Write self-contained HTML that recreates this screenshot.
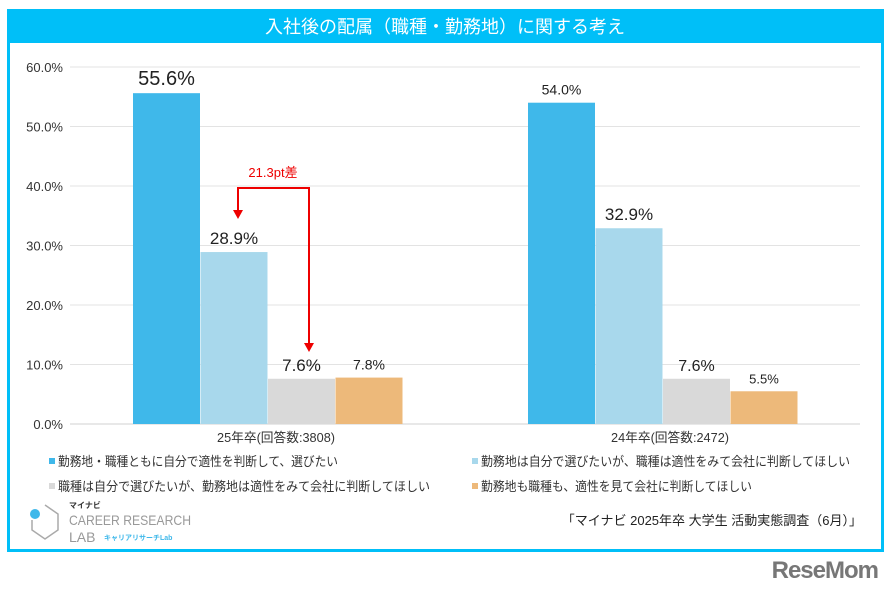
<!DOCTYPE html>
<html><head><meta charset="utf-8"><style>
body{margin:0;width:890px;height:591px;background:#fff;overflow:hidden;font-family:"Liberation Sans","Noto Sans CJK JP",sans-serif}
svg text{font-family:"Liberation Sans","Noto Sans CJK JP",sans-serif}
</style></head><body>
<svg width="890" height="591">
<rect x="8.5" y="10.5" width="874" height="540" fill="#fff" stroke="#00bff8" stroke-width="3"/>
<rect x="8" y="10" width="875" height="33" fill="#00bff8"/>
<text x="445" y="33" font-size="18" fill="#fff" text-anchor="middle">入社後の配属（職種・勤務地）に関する考え</text>
<g id="grid"></g><g id="bars"></g>
<g>
<text x="273" y="177" font-size="13" fill="#e00" text-anchor="middle">21.3pt差</text>
<polyline points="238,212 238,188 309,188 309,344" fill="none" stroke="#e00" stroke-width="2"/>
<polygon points="233,210 243,210 238,219" fill="#e00"/><polygon points="304,343 314,343 309,352" fill="#e00"/>
</g>
<text x="276" y="442" font-size="13" fill="#333" text-anchor="middle" textLength="118" lengthAdjust="spacingAndGlyphs">25年卒(回答数:3808)</text>
<text x="670" y="442" font-size="13" fill="#333" text-anchor="middle" textLength="118" lengthAdjust="spacingAndGlyphs">24年卒(回答数:2472)</text>
<g font-size="13" fill="#333">
<g><rect x="49" y="458" width="6" height="6" fill="#3fb8ea"/><text x="58" y="466" textLength="280" lengthAdjust="spacingAndGlyphs">勤務地・職種ともに自分で適性を判断して、選びたい</text></g>
<g><rect x="472" y="458" width="6" height="6" fill="#a8d8ec"/><text x="481" y="466" textLength="369" lengthAdjust="spacingAndGlyphs">勤務地は自分で選びたいが、職種は適性をみて会社に判断してほしい</text></g>
<g><rect x="49" y="483" width="6" height="6" fill="#d9d9d9"/><text x="58" y="491" textLength="372" lengthAdjust="spacingAndGlyphs">職種は自分で選びたいが、勤務地は適性をみて会社に判断してほしい</text></g>
<g><rect x="472" y="483" width="6" height="6" fill="#edb97a"/><text x="481" y="491" textLength="271" lengthAdjust="spacingAndGlyphs">勤務地も職種も、適性を見て会社に判断してほしい</text></g>
</g>
<g>
<circle cx="35" cy="514" r="5" fill="#3fb8ea"/>
<polyline points="45,505 58,514 58,530 45,539 32,530 32,520" fill="none" stroke="#aaa" stroke-width="1.5"/>
<text x="69" y="508" font-size="8" fill="#333" font-weight="bold">マイナビ</text>
<text x="69" y="525" font-size="14" fill="#999" textLength="122" lengthAdjust="spacingAndGlyphs">CAREER RESEARCH</text>
<text x="69" y="542" font-size="14" fill="#999">LAB</text>
<text x="104" y="540" font-size="7" fill="#3fb8ea" font-weight="bold">キャリアリサーチLab</text>
</g>
<text x="862" y="525" font-size="13" fill="#222" text-anchor="end">「マイナビ 2025年卒 大学生 活動実態調査（6月）」</text>
<text x="878" y="578" font-size="24" fill="#777" font-weight="bold" text-anchor="end" letter-spacing="-1">ReseMom</text>
</svg>
<script>
const categories=["25年卒","24年卒"];
const s1=[55.6,54.0];
const s2=[28.9,32.9];
const s3=[7.6,7.6];
const s4=[7.8,5.5];
const ticks=[0,10,20,30,40,50,60];
const series=[s1,s2,s3,s4];
const colors=["#3fb8ea","#a8d8ec","#d9d9d9","#edb97a"];
const labelSizes=[[20,14],[17,17],[17,16],[14,13]];
const y=v=>424-v*(357/60);
const gx=i=>133+i*395;
const ns="http://www.w3.org/2000/svg";
const grid=document.getElementById('grid'),bars=document.getElementById('bars');
ticks.forEach(t=>{
 const l=document.createElementNS(ns,'line');
 l.setAttribute('x1',70);l.setAttribute('x2',860);l.setAttribute('y1',y(t));l.setAttribute('y2',y(t));
 l.setAttribute('stroke',t===0?'#d0d0d0':'#e3e3e3');
 
 
 grid.appendChild(l);
 const tx=document.createElementNS(ns,'text');
 tx.setAttribute('x',63);tx.setAttribute('y',y(t)+5);tx.setAttribute('text-anchor','end');tx.setAttribute('font-size','13');tx.setAttribute('fill','#333');
 tx.textContent=t.toFixed(1)+'%';
 
 
 grid.appendChild(tx);
});
categories.forEach((c,i)=>{
 series.forEach((s,j)=>{
  const x=gx(i)+j*67.5;
  const r=document.createElementNS(ns,'rect');
  r.setAttribute('x',x);r.setAttribute('width',67);r.setAttribute('y',y(s[i]));r.setAttribute('height',424-y(s[i]));r.setAttribute('fill',colors[j]);
  
  
  bars.appendChild(r);
  const tx=document.createElementNS(ns,'text');
  tx.setAttribute('x',x+33.5);tx.setAttribute('y',y(s[i])-8);tx.setAttribute('text-anchor','middle');
  tx.setAttribute('font-size',labelSizes[j][i]);tx.setAttribute('fill','#222');
  tx.textContent=s[i].toFixed(1)+'%';
  
  
  bars.appendChild(tx);
 });
});
</script>
</body></html>
